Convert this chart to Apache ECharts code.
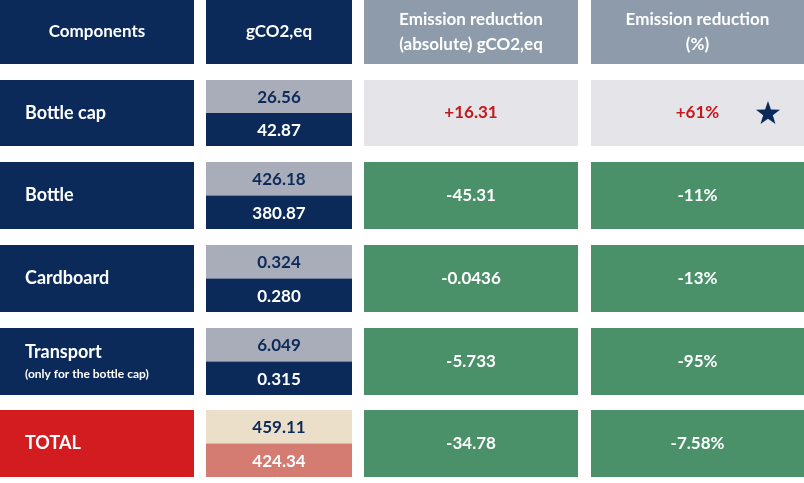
<!DOCTYPE html>
<html>
<head>
<meta charset="utf-8">
<script src="https://cdn.jsdelivr.net/npm/echarts@6/dist/echarts.min.js"></script>
<style>html,body{margin:0;padding:0;background:#fff}#chart{width:804px;height:483px}</style>
</head>
<body>
<div id="chart"></div>
<script>
// data
var headers = ['Components', 'gCO2,eq', 'Emission reduction\n(absolute) gCO2,eq', 'Emission reduction\n(%)'];
var components = ['Bottle cap', 'Bottle', 'Cardboard', 'Transport', 'TOTAL'];
var subLabels = ['', '', '', '(only for the bottle cap)', ''];
var before = ['26.56', '426.18', '0.324', '6.049', '459.11'];
var after = ['42.87', '380.87', '0.280', '0.315', '424.34'];
var absReduction = ['+16.31', '-45.31', '-0.0436', '-5.733', '-34.78'];
var pctReduction = ['+61%', '-11%', '-13%', '-95%', '-7.58%'];

// layout (pixels on a 804x483 value grid)
var colEdges = [[0, 194], [206, 352], [364, 578], [591, 804]];
var rowEdges = [[0, 64], [80, 146], [162, 229], [245, 312], [328, 395], [410, 477]];

var NAVY = '#0b2a5a', GREY = '#8e9bab', LIGHT = '#e4e4e9', GREEN = '#4a916a',
    RED = '#d21c1f', CAPGREY = '#a9adb9', BEIGE = '#ecdfc9', SALMON = '#d47b72', TXTRED = '#c3191c';
var FONT = 'Lato, "Noto Sans", sans-serif';

var cells = [];
headers.forEach(function (h, c) {
  cells.push({c: c, r: 0, fill: c < 2 ? NAVY : GREY, text: h, color: '#fff', size: 17, align: 'center'});
});
components.forEach(function (name, i) {
  var r = i + 1, tot = i === 4, cap = i === 0;
  cells.push({c: 0, r: r, fill: tot ? RED : NAVY, text: name, sub: subLabels[i], color: '#fff', size: 18, align: 'left'});
  cells.push({c: 1, r: r, split: true, fill: tot ? BEIGE : CAPGREY, fill2: tot ? SALMON : NAVY,
    text: before[i], text2: after[i], color: NAVY, color2: '#fff', size: 17});
  cells.push({c: 2, r: r, fill: cap ? LIGHT : GREEN, text: absReduction[i], color: cap ? TXTRED : '#fff', size: 17, align: 'center'});
  cells.push({c: 3, r: r, fill: cap ? LIGHT : GREEN, text: pctReduction[i], color: cap ? TXTRED : '#fff', size: 17, align: 'center', star: cap});
});

function renderItem(params, api) {
  var d = cells[params.dataIndex];
  var p0 = api.coord([colEdges[d.c][0], rowEdges[d.r][0]]);
  var p1 = api.coord([colEdges[d.c][1], rowEdges[d.r][1]]);
  var x = p0[0], y = p0[1], w = p1[0] - p0[0], h = p1[1] - p0[1];
  var kids = [];
  if (d.split) {
    var h1 = h / 2;
    kids.push({type: 'rect', shape: {x: x, y: y, width: w, height: h1}, style: {fill: d.fill}});
    kids.push({type: 'rect', shape: {x: x, y: y + h1, width: w, height: h - h1}, style: {fill: d.fill2}});
    kids.push({type: 'text', style: {x: x + w / 2, y: y + h1 / 2 + 1, text: d.text, fill: d.color, font: 'bold ' + d.size + 'px ' + FONT, align: 'center', verticalAlign: 'middle'}});
    kids.push({type: 'text', style: {x: x + w / 2, y: y + h1 + h1 / 2 + 1, text: d.text2, fill: d.color2, font: 'bold ' + d.size + 'px ' + FONT, align: 'center', verticalAlign: 'middle'}});
  } else {
    kids.push({type: 'rect', shape: {x: x, y: y, width: w, height: h}, style: {fill: d.fill}});
    var tx = d.align === 'left' ? x + 25 : x + w / 2;
    if (d.r === 0 && d.c === 0) tx = x + w / 2;
    var ty = y + h / 2;
    if (d.sub) ty -= 9;
    kids.push({type: 'text', style: {x: tx, y: ty, text: d.text, fill: d.color, font: 'bold ' + d.size + 'px ' + FONT, align: d.align, verticalAlign: 'middle', lineHeight: 25}});
    if (d.sub) {
      kids.push({type: 'text', style: {x: tx, y: ty + 22, text: d.sub, fill: d.color, font: 'bold 12px ' + FONT, align: 'left', verticalAlign: 'middle'}});
    }
    if (d.star) {
      kids.push({type: 'path', shape: {pathData: 'M0,-12 L2.8,-3.9 L11.4,-3.7 L4.6,1.5 L7.1,9.7 L0,4.8 L-7.1,9.7 L-4.6,1.5 L-11.4,-3.7 L-2.8,-3.9 Z',
        x: x + w - 48, y: y + h / 2 - 12, width: 24, height: 23}, style: {fill: NAVY}});
    }
  }
  return {type: 'group', children: kids};
}

var myChart = echarts.init(document.getElementById('chart'));
myChart.setOption({
  backgroundColor: '#fff',
  animation: false,
  grid: {left: 0, right: 0, top: 0, bottom: 0},
  xAxis: {type: 'value', min: 0, max: 804, show: false},
  yAxis: {type: 'value', min: 0, max: 483, inverse: true, show: false},
  series: [{
    type: 'custom',
    renderItem: renderItem,
    data: cells.map(function (d, i) { return [i]; })
  }]
});
</script>
</body>
</html>
